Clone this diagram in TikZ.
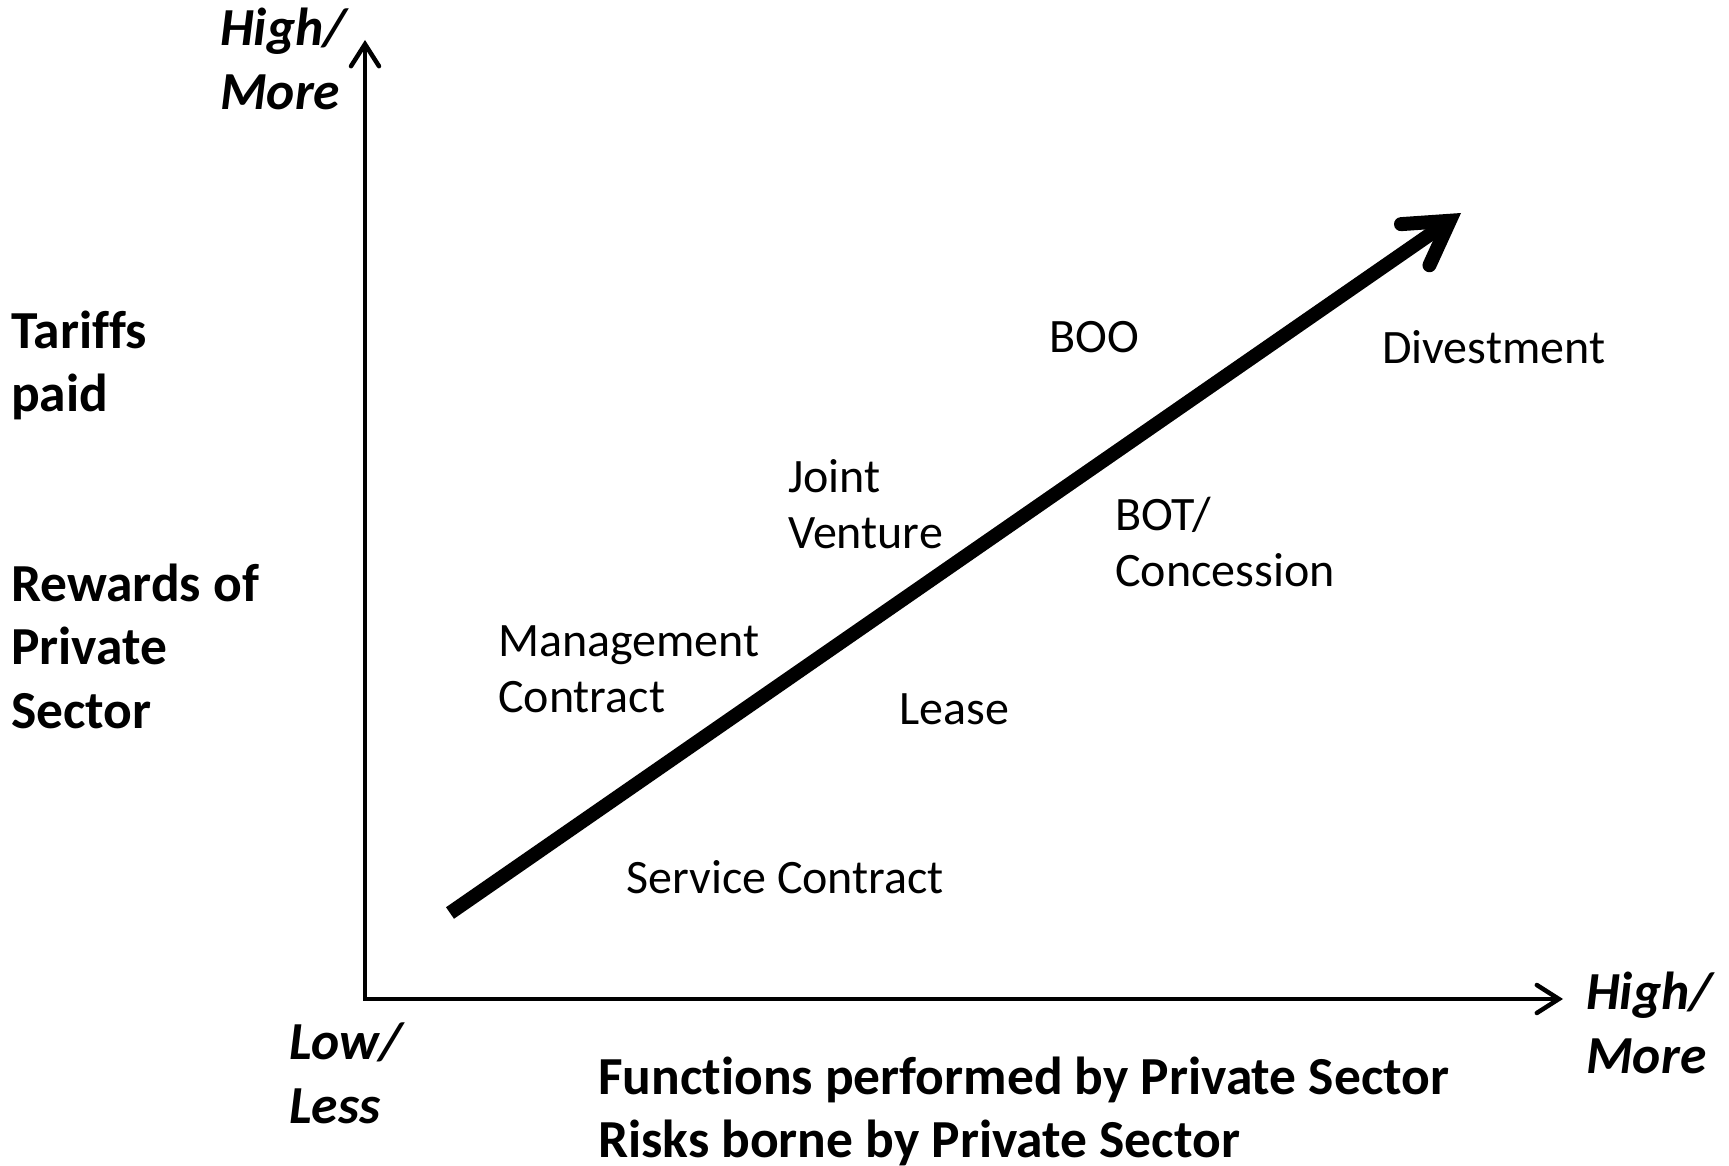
\documentclass[tikz,border=0pt]{standalone}
\usepackage{fontspec}
\setmainfont[Ligatures={NoCommon}]{Carlito}
\usetikzlibrary{arrows.meta}
\begin{document}
\begin{tikzpicture}[x=1pt,y=-1pt,
  reg/.style={inner sep=0pt,anchor=base west,align=left,font=\fontsize{48}{56}\selectfont},
  bld/.style={inner sep=0pt,anchor=base west,align=left,font=\fontsize{53.5}{63.5}\selectfont\bfseries},
  bit/.style={inner sep=0pt,anchor=base west,align=left,font=\fontsize{53.5}{64}\selectfont\bfseries\itshape},
  axis/.style={line width=4.5pt,line join=miter,{Straight Barb[length=22pt,width=28pt,line cap=round]}-{Straight Barb[length=22pt,width=28pt,line cap=round]}},
  trend/.style={line width=14pt,-{Straight Barb[length=42pt,width=50pt,line cap=round]}}]
\useasboundingbox (0,0) rectangle (1729,1166);
\coordinate (ytop) at (365,40);
\coordinate (O) at (365,999);
\coordinate (xend) at (1563,999);
\coordinate (ts) at (450,913);
\coordinate (te) at (1461,213);
\draw[axis] (ytop) -- (O) -- (xend);
\draw[trend] (ts) -- (te);
\node[bit] (hm1) at (220,110) {High/\\More};
\node[bit] (ll) at (289,1123) {Low/\\Less};
\node[bit] (hm2) at (1586,1073) {High/\\More};
\node[bld] (tar) at (11,411.5) {Tariffs\\paid};
\node[bld] (rew) at (11,728) {Rewards of\\Private\\Sector};
\node[bld] (fun) at (598,1157.5) {Functions performed by Private Sector\\Risks borne by Private Sector};
\node[reg] (boo) at (1049,352) {BOO};
\node[reg] (div) at (1382,363) {Divestment};
\node[reg] (jv) at (788,548) {Joint\\Venture};
\node[reg] (bot) at (1115,586) {BOT/\\Concession};
\node[reg] (mc) at (498,712) {Management\\Contract};
\node[reg] (lea) at (899,724) {Lease};
\node[reg] (sc) at (626,893) {Service Contract};
\end{tikzpicture}
\end{document}
